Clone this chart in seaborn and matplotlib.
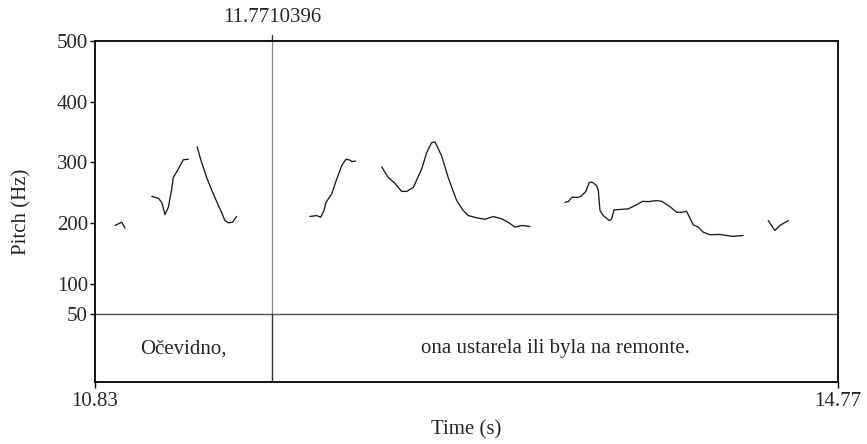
import numpy as np
import pandas as pd
import matplotlib
matplotlib.use("Agg")
import matplotlib.pyplot as plt
import matplotlib.transforms as mtransforms
import seaborn as sns

# ---- data ----
seg1_t = [10.936, 10.972, 10.989]
seg1_f = [195.9, 201.3, 191.5]
seg2_t = [11.131, 11.166, 11.184, 11.201, 11.219, 11.237, 11.245, 11.272, 11.298, 11.325]
seg2_f = [243.9, 240.7, 234.1, 213.9, 225.9, 256.1, 275.1, 288.9, 304.1, 305.2]
seg3_t = [11.372, 11.390, 11.422, 11.457, 11.493, 11.519, 11.537, 11.560, 11.581]
seg3_f = [325.4, 305.2, 275.1, 247.9, 223.3, 204.1, 200.3, 201.3, 210.7]
seg4_t = [11.970, 12.005, 12.027, 12.044, 12.055, 12.085, 12.112, 12.138, 12.161, 12.182, 12.191, 12.212]
seg4_f = [210.7, 212.3, 209.5, 220.5, 234.1, 247.9, 272.5, 294.3, 305.2, 303.6, 301.3, 302.0]
seg5_t = [12.350, 12.385, 12.421, 12.456, 12.483, 12.518, 12.562, 12.589, 12.615, 12.633,
          12.668, 12.703, 12.748, 12.783, 12.809, 12.854, 12.898, 12.942, 12.986, 13.021,
          13.057, 13.092, 13.136]
seg5_f = [292.6, 275.1, 265.2, 252.1, 252.1, 258.7, 288.9, 316.1, 332.5, 333.6,
          310.7, 275.1, 236.9, 220.5, 212.3, 208.5, 206.2, 210.7, 206.9, 201.3,
          193.1, 195.9, 194.3]
seg6_t = [13.322, 13.340, 13.358, 13.393, 13.411, 13.433, 13.451, 13.469, 13.490, 13.499,
          13.508, 13.525, 13.557, 13.570, 13.582, 13.605, 13.658, 13.693, 13.734, 13.764,
          13.808, 13.835, 13.879, 13.914, 13.941, 13.967, 14.002, 14.029, 14.055, 14.091,
          14.144, 14.214, 14.267]
seg6_f = [234.1, 235.2, 242.3, 242.3, 245.1, 252.1, 266.9, 266.9, 261.5, 253.3,
          220.5, 212.3, 204.1, 206.9, 221.6, 222.1, 223.3, 228.7, 235.7, 235.2,
          236.9, 235.7, 227.0, 217.7, 217.7, 219.3, 197.0, 193.1, 184.9, 180.7,
          181.1, 177.9, 179.5]
seg7_t = [14.400, 14.435, 14.462, 14.506]
seg7_f = [204.1, 187.7, 195.9, 204.1]

t_start, t_end = 10.83, 14.77
boundary = 11.7710396
intervals = ["Očevidno,", "ona ustarela ili byla na remonte."]
y_ticks = [50, 100, 200, 300, 400, 500]
f_min, f_max = 50, 500

segments = [(seg1_t, seg1_f), (seg2_t, seg2_f), (seg3_t, seg3_f), (seg4_t, seg4_f),
            (seg5_t, seg5_f), (seg6_t, seg6_f), (seg7_t, seg7_f)]
df = pd.concat([pd.DataFrame({"time": t, "pitch": f, "seg": i})
                for i, (t, f) in enumerate(segments)], ignore_index=True)

# ---- style ----
sns.set_style("ticks")
plt.rcParams["font.family"] = ["Liberation Serif", "DejaVu Serif"]
plt.rcParams["font.size"] = 15

fig = plt.figure(figsize=(8.67, 4.44), dpi=100)
ax = fig.add_axes([95 / 867, 1 - 382 / 444, (838 - 95) / 867, (382 - 41) / 444])

sns.lineplot(data=df, x="time", y="pitch", units="seg", estimator=None,
             color="#1a1a1a", linewidth=0.95, ax=ax, legend=False, sort=False)

# tier area extends below 50 Hz
tier_bottom = f_min - (f_max - f_min) * (382 - 314) / (314 - 41)
ax.set_xlim(t_start, t_end)
ax.set_ylim(tier_bottom, f_max)

# lines
ax.axhline(f_min, color="#555555", linewidth=1.0)
frac50 = (f_min - tier_bottom) / (f_max - tier_bottom)
ax.axvline(boundary, ymin=frac50, ymax=1, color="#888888", linewidth=0.9)
ax.axvline(boundary, ymin=0, ymax=frac50, color="#333333", linewidth=1.0)
trans = mtransforms.blended_transform_factory(ax.transData, ax.transAxes)
ax.plot([boundary, boundary], [1.0, 1.018], transform=trans, color="#333333",
        linewidth=1.0, clip_on=False)
ax.text(boundary, 1.04, f"{boundary:.7f}", transform=trans, ha="center", va="bottom",
        fontsize=15)

# interval labels
mids = [(t_start + boundary) / 2, (boundary + t_end) / 2]
ylab = f_min - (f_min - tier_bottom) * (349 - 314) / (382 - 314)
for m, lab in zip(mids, intervals):
    ax.text(m, ylab, lab, ha="center", va="center", fontsize=15)

# axes
ax.set_yticks(y_ticks)
ax.set_yticklabels([str(v) for v in y_ticks])
ax.set_xticks([t_start, t_end])
ax.set_xticklabels([f"{t_start:.2f}", f"{t_end:.2f}"])
ax.tick_params(axis="y", left=True, direction="out", length=3.6, width=1.0,
               color="black", labelsize=15, pad=1.5)
ax.tick_params(axis="x", bottom=True, direction="out", length=4.2, width=1.0,
               color="black", labelsize=15, pad=3)
ax.set_xlabel("Time (s)", fontsize=15, labelpad=7)
ax.set_ylabel("Pitch (Hz)", fontsize=15, labelpad=18)
for s in ax.spines.values():
    s.set_color("black")
    s.set_linewidth(1.3)
    s.set_visible(True)

fig.savefig("out.png", dpi=100, facecolor="white")
